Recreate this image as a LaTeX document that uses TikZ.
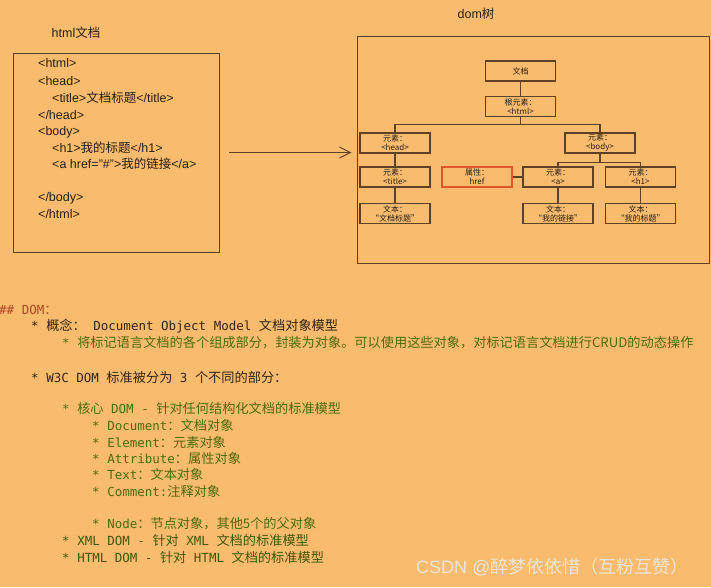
\documentclass[tikz,border=0pt]{standalone}
\usepackage{fontspec}
\usepackage{xcolor}
\usepackage{tikz}
\usetikzlibrary{arrows.meta}

\setmainfont{Liberation Sans}
\newfontfamily\cjkfont{Noto Sans CJK SC}
\newfontfamily\monofont{DejaVu Sans Mono}
% CJK words inside latin text
\newcommand{\zh}[1]{{\cjkfont\fontsize{13.2}{15}\selectfont #1}}
\newcommand{\zhs}[1]{{\cjkfont #1}}

\definecolor{bg}{RGB}{249,188,110}
\definecolor{ink}{RGB}{40,30,20}
\definecolor{boxline}{RGB}{95,65,38}
\definecolor{attrline}{RGB}{225,85,40}
\definecolor{mdhead}{RGB}{175,70,35}
\definecolor{mddark}{RGB}{50,36,18}
\definecolor{mdgreen}{RGB}{80,106,12}
\definecolor{mdolive}{RGB}{66,86,8}
\definecolor{wmark}{RGB}{236,229,216}

\begin{document}
\begin{tikzpicture}[x=1pt, y=-1pt,
  treebox/.style={draw=#1, line width=1.3pt, minimum width=70pt, minimum height=20pt, inner sep=0pt, align=center, font=\cjkfont\fontsize{8}{9}\selectfont, text=ink},
  treebox/.default=boxline,
  code/.style={anchor=west, inner sep=0pt, font=\fontsize{12.5}{15}\selectfont, text=ink},
  md/.style={anchor=west, inner sep=0pt, font=\monofont\fontsize{12.5}{15}\selectfont, text=#1},
  link/.style={draw=boxline, line width=1.3pt},
  arr/.style={-{Straight Barb[length=11pt, width=11pt]}, line width=1pt, draw=boxline}
]

% ── Canvas ──
\fill[bg] (0,0) rectangle (711,587);
\useasboundingbox (0,0) rectangle (711,587);

% ── HTML document ──
\node[code, anchor=center] (htmltitle) at (76,33) {html\zhs{文档}};
\node[draw=boxline, line width=1pt, minimum width=206pt, minimum height=199pt, inner sep=0pt] (htmlbox) at (116,152.5) {};
\node[code] (c1) at (38,63) {<html>};
\node[code] (c2) at (38,81) {<head>};
\node[code] (c3) at (52,98) {<title>\zhs{文档标题}</title>};
\node[code] (c4) at (38,115) {</head>};
\node[code] (c5) at (38,132) {<body>};
\node[code] (c6) at (52,148) {<h1>\zhs{我的标题}</h1>};
\node[code] (c7) at (52,164) {<a href="\#">\zhs{我的链接}</a>};
\node[code] (c8) at (38,198) {</body>};
\node[code] (c9) at (38,214) {</html>};

% ── DOM tree ──
\node[code, anchor=center] (domtitle) at (476,14) {dom\zhs{树}};
\node[draw=boxline, line width=1pt, minimum width=352pt, minimum height=227pt, inner sep=0pt] (domtree) at (533,149.5) {};

\node[treebox] (doc) at (520.5,71) {文档};
\node[treebox] (root) at (520.5,106.5) {根元素：\\<html>};
\node[treebox] (head) at (395,143) {元素：\\<head>};
\node[treebox] (body) at (600,143) {元素：\\<body>};
\node[treebox] (title) at (395,177) {元素：\\<title>};
\node[treebox=attrline] (attr) at (477,177) {属性：\\href};
\node[treebox] (anode) at (558,177) {元素：\\<a>};
\node[treebox] (hone) at (640.5,177) {元素：\\<h1>};
\node[treebox] (ttext) at (395,213.5) {文本：\\“文档标题”};
\node[treebox] (atext) at (558,213.5) {文本：\\“我的链接”};
\node[treebox] (htext) at (640.5,213.5) {文本：\\“我的标题”};

% tree links
\draw[link] (doc) -- (root);
\draw[link] (root.south) -- ++(0,7) -| (head.north);
\draw[link] (root.south) -- ++(0,7) -| (body.north);
\draw[link] (head) -- (title);
\draw[link] (title) -- (ttext);
\draw[link] (body.south) -- ++(0,9) -| (anode.north);
\draw[link] (body.south) -- ++(0,9) -| (hone.north);
\draw[link] (attr) -- (anode);
\draw[link] (anode) -- (atext);
\draw[link] (hone) -- (htext);

% html -> dom
\draw[arr, shorten <=9pt, shorten >=5pt] (htmlbox.east) -- (htmlbox.east -| domtree.west);

% ── Notes ──
\node[md=mdhead] (n1) at (-1,310) {\#\# DOM\zh{：}};
\node[md=mddark] (n2) at (31,326) {* \zh{概念：} Document Object Model \zh{文档对象模型}};
\node[md=mdgreen] (n3) at (62,343) {* \zh{将标记语言文档的各个组成部分，封装为对象。可以使用这些对象，对标记语言文档进行CRUD的动态操作}};
\node[md=mddark] (n4) at (31,377) {* W3C DOM \zh{标准被分为} 3 \zh{个不同的部分：}};
\node[md=mdgreen] (n5) at (62,408) {* \zh{核心} DOM - \zh{针对任何结构化文档的标准模型}};
\node[md=mdgreen] (n6) at (92,425) {* Document\zh{：文档对象}};
\node[md=mdgreen] (n7) at (92,442) {* Element\zh{：元素对象}};
\node[md=mdgreen] (n8) at (92,458) {* Attribute\zh{：属性对象}};
\node[md=mdgreen] (n9) at (92,474) {* Text\zh{：文本对象}};
\node[md=mdgreen] (n10) at (92,491) {* Comment:\zh{注释对象}};
\node[md=mdgreen] (n11) at (92,524) {* Node\zh{：节点对象，其他5个的父对象}};
\node[md=mdolive] (n12) at (62,540) {* XML DOM - \zh{针对} XML \zh{文档的标准模型}};
\node[md=mdolive] (n13) at (62,557) {* HTML DOM - \zh{针对} HTML \zh{文档的标准模型}};

% watermark
\node[anchor=west, inner sep=0pt, text=wmark, font=\fontsize{18}{20}\selectfont] (wmark) at (416,567) {CSDN @{\cjkfont 醉梦依依惜（互粉互赞）}};

\end{tikzpicture}
\end{document}
